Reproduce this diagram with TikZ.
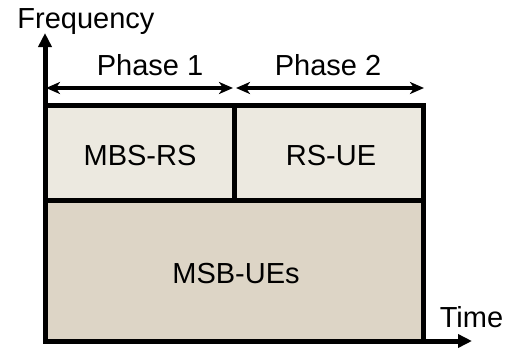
\documentclass[tikz,border=0pt]{standalone}
\usepackage{fontspec}
\setmainfont{Liberation Sans}
\usetikzlibrary{arrows.meta}
\definecolor{topfill}{RGB}{236,233,224}
\definecolor{botfill}{RGB}{221,213,198}
\begin{document}
\begin{tikzpicture}[x=1pt,y=-1pt,
  lbl/.style={font=\fontsize{29}{32}\selectfont, inner sep=0pt, anchor=base},
  boxsty/.style={draw=black, line width=5pt, inner sep=0pt, outer sep=0pt},
  axis/.style={line width=5pt, -{Triangle[length=14pt,width=13pt]}},
  span/.style={line width=3.5pt, {Stealth[length=14pt,width=12pt,inset=4pt]}-{Stealth[length=14pt,width=12pt,inset=4pt]}}]
\useasboundingbox (0,0) rectangle (517,349);
% boxes
\fill[botfill] (45,200.5) rectangle (423,341);
\fill[topfill] (45,105) rectangle (423,200.5);
\node[boxsty, minimum width=189.5pt, minimum height=95.5pt] (b1) at (139.75,152.75) {};
\node[boxsty, minimum width=188.5pt, minimum height=95.5pt] (b2) at (328.75,152.75) {};
\node[boxsty, minimum width=378pt, minimum height=140.5pt] (b3) at (234,270.75) {};
\node[lbl] (t1) at (140,165) {MBS-RS};
\node[lbl] (t2) at (331,165) {RS-UE};
\node[lbl] (t3) at (236,283) {MSB-UEs};
% axes
\coordinate (o) at (45,341);
\coordinate (ytip) at (45,33);
\coordinate (xtip) at (472,341);
\draw[axis] (o) -- (ytip);
\draw[axis] (o) -- (xtip);
\node[lbl] (freq) at (86,28) {Frequency};
\node[lbl] (time) at (471.5,327) {Time};
% phase spans
\coordinate (p1a) at (46,88);
\coordinate (p1b) at (233,88);
\coordinate (p2a) at (236,88);
\coordinate (p2b) at (424,88);
\draw[span] (p1a) -- (p1b);
\draw[span] (p2a) -- (p2b);
\node[lbl] (ph1) at (150,75) {Phase 1};
\node[lbl] (ph2) at (328,75) {Phase 2};
\end{tikzpicture}
\end{document}
